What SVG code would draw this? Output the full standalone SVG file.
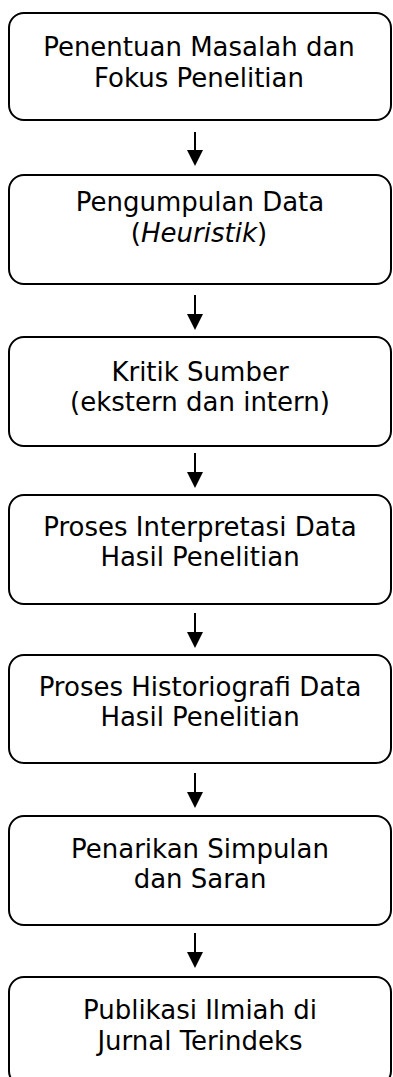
<svg xmlns="http://www.w3.org/2000/svg" width="393" height="1077" viewBox="0 0 393 1077">
  <style>
    .box { fill: #ffffff; stroke: #000000; stroke-width: 2; }
    .label { font-family: "DejaVu Sans", "Liberation Sans", sans-serif; font-size: 26px; fill: #000000; text-anchor: middle; }
    .em { font-style: italic; }
    .link { stroke: #000000; stroke-width: 2; fill: none; marker-end: url(#head); }
  </style>
  <defs>
    <!-- arrowhead: base sits at the line end, tip 16px further on -->
    <marker id="head" viewBox="0 0 16 16" refX="0" refY="8" markerWidth="16" markerHeight="16" markerUnits="userSpaceOnUse" orient="auto">
      <path d="M0,0 L16,8 L0,16 Z" fill="#000000"/>
    </marker>
  </defs>
  <rect width="393" height="1077" fill="#ffffff"/>

  <g id="connectors">
    <path class="link" d="M195,132 V150"/>
    <path class="link" d="M195,295 V314"/>
    <path class="link" d="M195,453 V472"/>
    <path class="link" d="M195,613 V632"/>
    <path class="link" d="M195,773 V792"/>
    <path class="link" d="M195,933 V952"/>
  </g>

  <g id="n1">
    <rect class="box" x="9" y="13" width="382" height="107" rx="15"/>
    <text class="label" x="199" y="56">Penentuan Masalah dan</text>
    <text class="label" x="199" y="87">Fokus Penelitian</text>
  </g>
  <g id="n2">
    <rect class="box" x="9" y="175" width="382" height="109" rx="15"/>
    <text class="label" x="200" y="211">Pengumpulan Data</text>
    <text class="label" x="199" y="242">(<tspan class="em">Heuristik</tspan>)</text>
  </g>
  <g id="n3">
    <rect class="box" x="9" y="337" width="382" height="109" rx="15"/>
    <text class="label" x="200" y="381">Kritik Sumber</text>
    <text class="label" x="200" y="411">(ekstern dan intern)</text>
  </g>
  <g id="n4">
    <rect class="box" x="9" y="495" width="382" height="109" rx="15"/>
    <text class="label" x="200" y="536">Proses Interpretasi Data</text>
    <text class="label" x="200" y="566">Hasil Penelitian</text>
  </g>
  <g id="n5">
    <rect class="box" x="9" y="655" width="382" height="108" rx="15"/>
    <text class="label" x="200" y="696">Proses Historiografi Data</text>
    <text class="label" x="200" y="726">Hasil Penelitian</text>
  </g>
  <g id="n6">
    <rect class="box" x="9" y="816" width="382" height="109" rx="15"/>
    <text class="label" x="200" y="858">Penarikan Simpulan</text>
    <text class="label" x="200" y="888">dan Saran</text>
  </g>
  <g id="n7">
    <rect class="box" x="9" y="977" width="382" height="109" rx="15"/>
    <text class="label" x="200" y="1019">Publikasi Ilmiah di</text>
    <text class="label" x="200" y="1050">Jurnal Terindeks</text>
  </g>
</svg>
